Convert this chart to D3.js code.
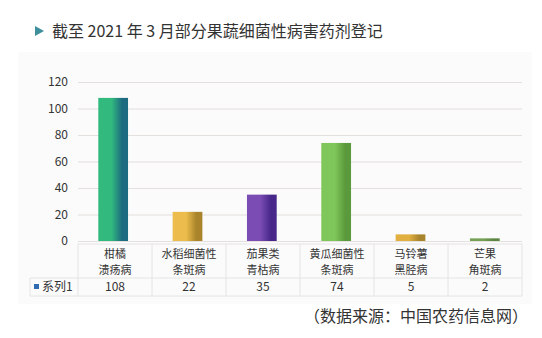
<!DOCTYPE html>
<html><head><meta charset="utf-8">
<script src="https://cdn.jsdelivr.net/npm/d3@7"></script>
<style>body{margin:0;background:#fff}svg{display:block}</style>
</head><body>
<script>
const categories = [["柑橘","溃疡病"],["水稻细菌性","条斑病"],["茄果类","青枯病"],["黄瓜细菌性","条斑病"],["马铃薯","黑胫病"],["芒果","角斑病"]];
const values = [108, 22, 35, 74, 5, 2];
const yTicks = [0, 20, 40, 60, 80, 100, 120];
const seriesName = "系列1";
const title = "截至 2021 年 3 月部分果蔬细菌性病害药剂登记";
const source = "（数据来源：中国农药信息网）";
const barColors = [["#31b97e","#1d6b80"],["#ecbd4c","#a9842a"],["#7b4cb3","#47288a"],["#7fc75a","#5b9a3c"],["#e2b040","#a8842c"],["#76a055","#5a8540"]];

const W = 542, H = 338;
const svg = d3.select("body").append("svg").attr("width", W).attr("height", H);
const font = "'Noto Sans CJK SC', 'Noto Sans', sans-serif";

// panel
svg.append("rect").attr("x",18).attr("y",52).attr("width",514).attr("height",252).attr("fill","#fbfbfb");

// title
svg.append("path").attr("d","M35,26 L44,31 L35,36 Z").attr("fill","#3e8f9c");
svg.append("text").attr("x",52).attr("y",37).attr("font-family",font).attr("font-size",16)
  .attr("fill","#333").text(title);

const idx = d3.range(categories.length);
const x = d3.scaleBand().domain(idx).range([76,522]).paddingInner(0.6).paddingOuter(0.3);
const xc = d3.scaleBand().domain(idx).range([78,522]).padding(0);
const y = d3.scaleLinear().domain([0,120]).range([241,82]);

// grid
const yAxis = d3.axisLeft(y).tickValues(yTicks).tickSize(-(522-78)).tickPadding(10);
const gy = svg.append("g").attr("transform","translate(78,0)").call(yAxis);
gy.select(".domain").remove();
gy.selectAll(".tick line").attr("stroke","#e3e0de").attr("stroke-width",1.2);
gy.selectAll(".tick text").attr("font-family",font).attr("font-size",12).attr("fill","#333");

// gradients
const defs = svg.append("defs");
barColors.forEach((c,i)=>{
  const g = defs.append("linearGradient").attr("id","g"+i).attr("x1","0").attr("x2","1").attr("y1","0").attr("y2","0");
  g.append("stop").attr("offset","0").attr("stop-color",c[0]);
  g.append("stop").attr("offset","0.45").attr("stop-color",c[0]);
  g.append("stop").attr("offset","0.8").attr("stop-color",c[1]);
  g.append("stop").attr("offset","1").attr("stop-color",c[1]);
});

svg.selectAll("rect.bar").data(values).join("rect").attr("class","bar")
  .attr("x",(d,i)=>x(i)).attr("width",x.bandwidth())
  .attr("y",d=>y(d)).attr("height",d=>y(0)-y(d))
  .attr("fill",(d,i)=>`url(#g${i})`);

// table
const lc = "#e4e4e4";
const tTop = 244, tMid = 278, tBot = 296;
svg.append("line").attr("x1",78).attr("x2",522).attr("y1",tTop).attr("y2",tTop).attr("stroke",lc);
svg.append("line").attr("x1",30).attr("x2",522).attr("y1",tMid).attr("y2",tMid).attr("stroke",lc);
svg.append("line").attr("x1",30).attr("x2",522).attr("y1",tBot).attr("y2",tBot).attr("stroke",lc);
idx.concat([categories.length]).forEach(i=>{
  const xx = i < categories.length ? xc(i) : 522;
  svg.append("line").attr("x1",xx).attr("x2",xx).attr("y1",tTop).attr("y2",tBot).attr("stroke",lc);
});
svg.append("line").attr("x1",30).attr("x2",30).attr("y1",tMid).attr("y2",tBot).attr("stroke",lc);

categories.forEach((c,i)=>{
  const cx = xc(i) + xc.bandwidth()/2;
  c.forEach((t,j)=>{
    svg.append("text").attr("x",cx).attr("y",258 + j*16).attr("text-anchor","middle")
      .attr("font-family",font).attr("font-size",11).attr("fill","#333").text(t);
  });
  svg.append("text").attr("x",cx).attr("y",291).attr("text-anchor","middle")
    .attr("font-family",font).attr("font-size",12).attr("fill","#333").text(values[i]);
});
svg.append("rect").attr("x",34).attr("y",284).attr("width",5).attr("height",5).attr("fill","#2f6db0");
svg.append("text").attr("x",42).attr("y",291).attr("font-family",font).attr("font-size",12).attr("fill","#333").text(seriesName);

svg.append("text").attr("x",528).attr("y",322).attr("text-anchor","end")
  .attr("font-family",font).attr("font-size",16).attr("fill","#333").text(source);
</script>
</body></html>
